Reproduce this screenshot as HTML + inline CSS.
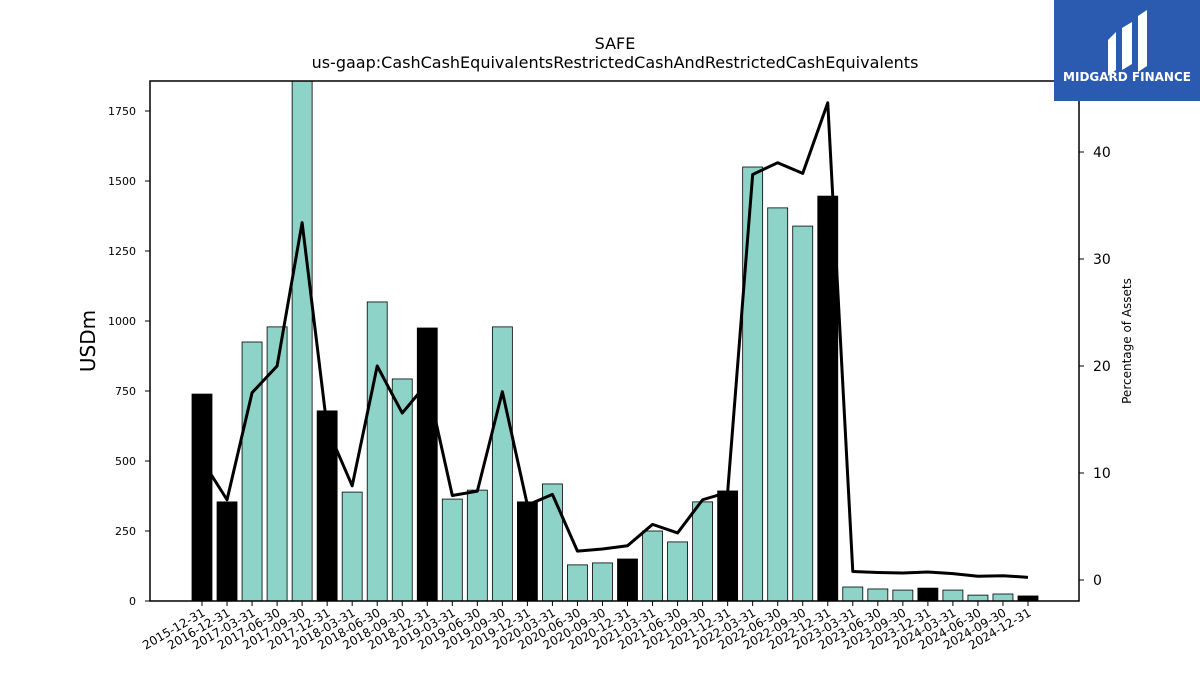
<!DOCTYPE html>
<html><head><meta charset="utf-8">
<style>
body{margin:0;background:#fff;font-family:"Liberation Sans","DejaVu Sans",sans-serif;}
svg text{font-family:"DejaVu Sans","Liberation Sans",sans-serif;}
</style></head>
<body>
<svg id="chart" width="1200" height="675" xmlns="http://www.w3.org/2000/svg">
<text x="615" y="49" font-size="16" text-anchor="middle">SAFE</text>
<text x="615" y="68" font-size="16" text-anchor="middle">us-gaap:CashCashEquivalentsRestrictedCashAndRestrictedCashEquivalents</text>
<g id="bars"></g>
<g id="line"></g>
<rect x="150" y="81" width="929" height="520" fill="none" stroke="#000" stroke-width="1.5"/>
<g id="axes"></g>
<text transform="translate(95,341) rotate(-90)" font-size="20" text-anchor="middle">USDm</text>
<text transform="translate(1131,341) rotate(-90)" font-size="12" text-anchor="middle">Percentage of Assets</text>
<g>
<rect x="1054" y="0" width="146" height="101" fill="#2b5bb0"/>
<path d="M1108 40 L1116 32 L1116 70 L1108 76 Z" fill="#fff"/>
<path d="M1122 28 L1132 22 L1132 64 L1122 70 Z" fill="#fff"/>
<path d="M1138 16 L1147 10 L1147 66 L1138 72 Z" fill="#fff"/>
<text x="1127" y="81" font-size="12" font-weight="bold" fill="#fff" text-anchor="middle">MIDGARD FINANCE</text>
</g>
</svg>
<script>
const categories=["2015-12-31","2016-12-31","2017-03-31","2017-06-30","2017-09-30","2017-12-31","2018-03-31","2018-06-30","2018-09-30","2018-12-31","2019-03-31","2019-06-30","2019-09-30","2019-12-31","2020-03-31","2020-06-30","2020-09-30","2020-12-31","2021-03-31","2021-06-30","2021-09-30","2021-12-31","2022-03-31","2022-06-30","2022-09-30","2022-12-31","2023-03-31","2023-06-30","2023-09-30","2023-12-31","2024-03-31","2024-06-30","2024-09-30","2024-12-31"];
const cashValues=[739,354,925,979,1950,679,389,1068,793,975,364,396,979,354,418,129,136,150,250,211,354,393,1550,1404,1339,1446,50,43,39,46,39,21,25,18];
const pctValues=[11.2,7.5,17.5,20.0,33.4,14.2,8.8,20.0,15.6,18.4,7.9,8.3,17.6,7.0,8.0,2.7,2.9,3.2,5.2,4.4,7.5,8.2,37.9,39.0,38.0,44.6,0.8,0.7,0.65,0.75,0.6,0.35,0.4,0.25];
const leftTicks=[0,250,500,750,1000,1250,1500,1750];
const rightTicks=[0,10,20,30,40];
const NS="http://www.w3.org/2000/svg";
const X0=202,DX=(1028-202)/33,TOP=81,BOT=601;
const xs=i=>X0+i*DX;
const yL=v=>601-v*0.28;
const yR=v=>580-v*10.7;
function mk(t,a,p){const e=document.createElementNS(NS,t);for(const k in a)e.setAttribute(k,a[k]);p.appendChild(e);return e;}
const bars=document.getElementById('bars'),line=document.getElementById('line'),axes=document.getElementById('axes');
const clip=mk('clipPath',{id:'pc'},document.getElementById('chart'));
mk('rect',{x:150,y:TOP,width:929,height:BOT-TOP},clip);
bars.setAttribute('clip-path','url(#pc)');
categories.forEach((c,i)=>{
  const black=c.endsWith('12-31');
  const y=yL(cashValues[i]);
  const r=mk('rect',{x:xs(i)-10,y:y,width:20,height:BOT-y,fill:black?'#000':'#8dd3c7',stroke:'#000','stroke-width':0.8},bars);
  
  
  mk('line',{x1:xs(i),x2:xs(i),y1:BOT,y2:BOT+5,stroke:'#000'},axes);
  const t=mk('text',{transform:`translate(${xs(i)+4},${BOT+14}) rotate(-30)`,'font-size':12,'text-anchor':'end'},axes);
  t.textContent=c;
  
  
});
const pts=pctValues.map((v,i)=>xs(i)+','+yR(v)).join(' ');
const pl=mk('polyline',{points:pts,fill:'none',stroke:'#000','stroke-width':3,'stroke-linejoin':'round'},line);


leftTicks.forEach(v=>{
  mk('line',{x1:145,x2:150,y1:yL(v),y2:yL(v),stroke:'#000'},axes);
  const t=mk('text',{x:136,y:yL(v)+4,'font-size':11,'text-anchor':'end'},axes);
  t.textContent=v;
  
  
});
rightTicks.forEach(v=>{
  mk('line',{x1:1079,x2:1084,y1:yR(v),y2:yR(v),stroke:'#000'},axes);
  const t=mk('text',{x:1093,y:yR(v)+5,'font-size':14},axes);
  t.textContent=v;
  
  
});
</script>
</body></html>
